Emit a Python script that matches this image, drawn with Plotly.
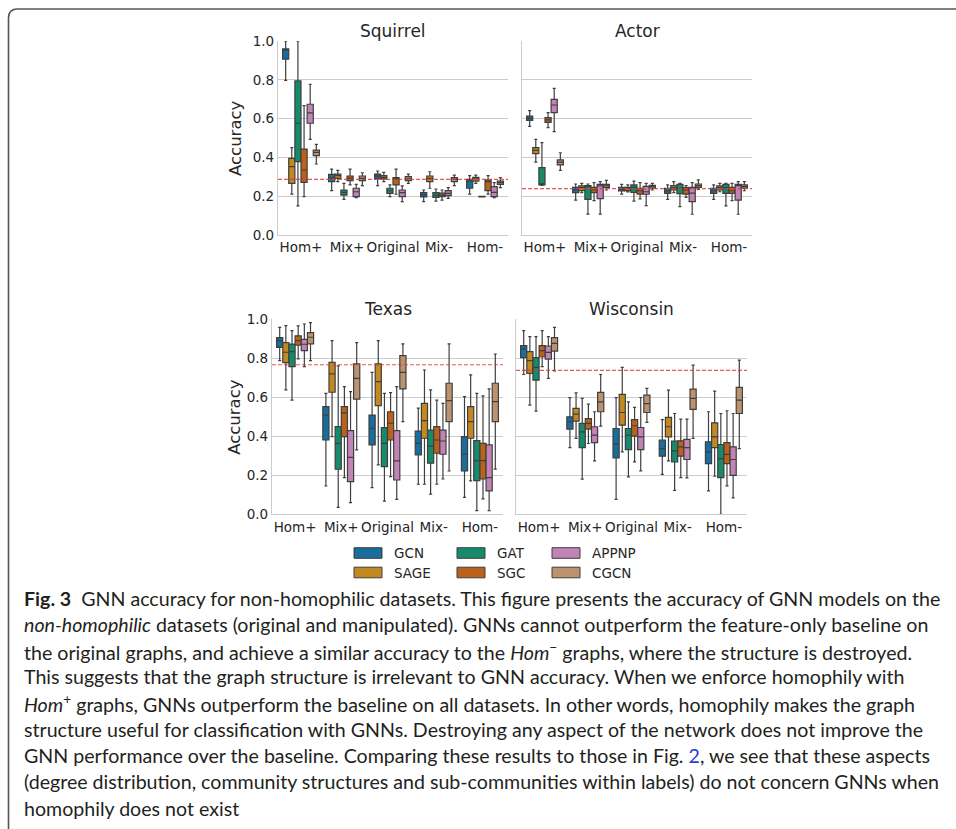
import plotly.graph_objects as go

W, H = 956, 829

MODELS = ["GCN", "SAGE", "GAT", "SGC", "APPNP", "CGCN"]
COLORS = ["#176d9c", "#c38820", "#168a6a", "#ba611b", "#c283b6", "#bd936f"]
CATS = ["Hom+", "Mix+", "Original", "Mix-", "Hom-"]
DATASETS = ["Squirrel", "Actor", "Texas", "Wisconsin"]
BASELINES = [0.287, 0.239, 0.767, 0.738]
Y_TICKS = [0.0, 0.2, 0.4, 0.6, 0.8, 1.0]

# rows: GCN, SAGE, GAT, SGC, APPNP, CGCN ; cols: Hom+, Mix+, Original, Mix-, Hom-
SQUIRREL_Q3 = [[0.959, 0.313, 0.314, 0.218, 0.287], [0.395, 0.314, 0.306, 0.304, 0.297],
               [0.794, 0.232, 0.241, 0.218, 0.199], [0.443, 0.304, 0.296, 0.216, 0.284],
               [0.674, 0.241, 0.232, 0.229, 0.249], [0.438, 0.304, 0.301, 0.296, 0.278]]
SQUIRREL_MED = [[0.955, 0.296, 0.303, 0.206, 0.278], [0.352, 0.306, 0.297, 0.292, 0.290],
                [0.576, 0.220, 0.228, 0.206, 0.198], [0.335, 0.292, 0.289, 0.206, 0.275],
                [0.629, 0.223, 0.218, 0.215, 0.220], [0.426, 0.292, 0.290, 0.287, 0.270]]
SQUIRREL_Q1 = [[0.907, 0.275, 0.289, 0.196, 0.241], [0.266, 0.292, 0.289, 0.275, 0.278],
               [0.378, 0.206, 0.215, 0.194, 0.197], [0.271, 0.280, 0.258, 0.198, 0.229],
               [0.576, 0.198, 0.198, 0.203, 0.198], [0.409, 0.280, 0.280, 0.275, 0.261]]
SQUIRREL_HI = [[1.000, 0.340, 0.330, 0.232, 0.306], [0.450, 0.333, 0.323, 0.326, 0.309],
               [1.000, 0.266, 0.258, 0.237, 0.199], [0.667, 0.340, 0.340, 0.232, 0.306],
               [0.777, 0.261, 0.253, 0.244, 0.270], [0.467, 0.321, 0.314, 0.309, 0.296]]
SQUIRREL_LO = [[0.797, 0.229, 0.254, 0.172, 0.211], [0.211, 0.275, 0.275, 0.241, 0.266],
               [0.150, 0.184, 0.198, 0.175, 0.197], [0.198, 0.258, 0.210, 0.180, 0.211],
               [0.493, 0.192, 0.172, 0.189, 0.192], [0.366, 0.254, 0.266, 0.254, 0.244]]

ACTOR_Q3 = [[0.613, 0.246, 0.246, 0.241, 0.241], [0.450, 0.253, 0.246, 0.254, 0.253],
            [0.347, 0.254, 0.258, 0.261, 0.261], [0.605, 0.246, 0.241, 0.244, 0.246],
            [0.699, 0.261, 0.251, 0.246, 0.261], [0.387, 0.261, 0.256, 0.263, 0.258]]
ACTOR_MED = [[0.601, 0.234, 0.235, 0.227, 0.228], [0.436, 0.244, 0.239, 0.244, 0.244],
             [0.262, 0.249, 0.246, 0.241, 0.244], [0.593, 0.232, 0.228, 0.232, 0.228],
             [0.670, 0.253, 0.223, 0.216, 0.254], [0.376, 0.253, 0.249, 0.254, 0.249]]
ACTOR_Q1 = [[0.591, 0.218, 0.227, 0.215, 0.215], [0.419, 0.229, 0.229, 0.232, 0.232],
            [0.258, 0.184, 0.220, 0.213, 0.215], [0.581, 0.218, 0.211, 0.211, 0.215],
            [0.631, 0.187, 0.210, 0.172, 0.180], [0.361, 0.244, 0.241, 0.246, 0.241]]
ACTOR_HI = [[0.641, 0.263, 0.261, 0.258, 0.258], [0.493, 0.266, 0.258, 0.275, 0.266],
            [0.476, 0.263, 0.278, 0.266, 0.266], [0.631, 0.270, 0.270, 0.254, 0.266],
            [0.756, 0.275, 0.266, 0.270, 0.275], [0.424, 0.282, 0.266, 0.284, 0.275]]
ACTOR_LO = [[0.560, 0.180, 0.211, 0.184, 0.184], [0.376, 0.218, 0.222, 0.218, 0.223],
            [0.256, 0.108, 0.175, 0.146, 0.150], [0.553, 0.177, 0.186, 0.194, 0.177],
            [0.533, 0.108, 0.151, 0.107, 0.107], [0.333, 0.232, 0.232, 0.235, 0.228]]

TEXAS_Q3 = [[0.906, 0.552, 0.509, 0.427, 0.398], [0.880, 0.779, 0.771, 0.569, 0.552],
            [0.873, 0.450, 0.444, 0.432, 0.378], [0.915, 0.552, 0.526, 0.450, 0.364],
            [0.897, 0.429, 0.429, 0.432, 0.356], [0.932, 0.771, 0.814, 0.672, 0.672]]
TEXAS_MED = [[0.889, 0.509, 0.441, 0.364, 0.308], [0.831, 0.720, 0.680, 0.480, 0.475],
             [0.834, 0.364, 0.364, 0.350, 0.275], [0.891, 0.520, 0.467, 0.381, 0.275],
             [0.872, 0.292, 0.274, 0.376, 0.188], [0.908, 0.697, 0.728, 0.583, 0.578]]
TEXAS_Q1 = [[0.856, 0.381, 0.356, 0.304, 0.222], [0.778, 0.626, 0.557, 0.390, 0.390],
            [0.757, 0.231, 0.244, 0.262, 0.173], [0.868, 0.398, 0.381, 0.313, 0.181],
            [0.839, 0.168, 0.176, 0.308, 0.120], [0.874, 0.591, 0.643, 0.475, 0.475]]
TEXAS_HI = [[0.959, 0.620, 0.728, 0.544, 0.603], [0.968, 0.891, 0.891, 0.740, 0.715],
            [0.942, 0.761, 0.620, 0.638, 0.620], [0.966, 0.655, 0.624, 0.586, 0.607],
            [0.976, 0.629, 0.655, 0.569, 0.643], [0.983, 0.880, 0.874, 0.874, 0.822]]
TEXAS_LO = [[0.788, 0.145, 0.137, 0.154, 0.087], [0.638, 0.398, 0.253, 0.154, 0.171],
            [0.586, 0.036, 0.068, 0.103, 0.019], [0.797, 0.188, 0.193, 0.154, 0.079],
            [0.757, 0.060, 0.077, 0.181, 0.019], [0.788, 0.330, 0.475, 0.222, 0.232]]

WISCONSIN_Q3 = [[0.865, 0.500, 0.440, 0.380, 0.372], [0.834, 0.543, 0.615, 0.497, 0.469],
                [0.803, 0.466, 0.440, 0.375, 0.358], [0.865, 0.491, 0.486, 0.377, 0.368],
                [0.863, 0.449, 0.445, 0.384, 0.346], [0.906, 0.625, 0.611, 0.642, 0.651]]
WISCONSIN_MED = [[0.848, 0.474, 0.360, 0.337, 0.320], [0.788, 0.514, 0.522, 0.449, 0.397],
                 [0.753, 0.423, 0.406, 0.325, 0.286], [0.839, 0.466, 0.454, 0.346, 0.307],
                 [0.830, 0.406, 0.397, 0.342, 0.281], [0.877, 0.577, 0.568, 0.594, 0.586]]
WISCONSIN_Q1 = [[0.803, 0.437, 0.289, 0.298, 0.260], [0.723, 0.478, 0.457, 0.397, 0.342],
                [0.688, 0.342, 0.332, 0.269, 0.188], [0.808, 0.437, 0.401, 0.298, 0.260],
                [0.796, 0.368, 0.332, 0.281, 0.200], [0.837, 0.526, 0.522, 0.538, 0.517]]
WISCONSIN_HI = [[0.942, 0.598, 0.598, 0.486, 0.526], [0.911, 0.623, 0.753, 0.637, 0.632],
                [0.911, 0.594, 0.577, 0.517, 0.517], [0.942, 0.565, 0.548, 0.488, 0.531],
                [0.911, 0.526, 0.599, 0.488, 0.517], [0.959, 0.717, 0.646, 0.765, 0.791]]
WISCONSIN_LO = [[0.717, 0.342, 0.077, 0.205, 0.120], [0.560, 0.389, 0.320, 0.274, 0.195],
                [0.529, 0.180, 0.192, 0.123, 0.000], [0.757, 0.363, 0.269, 0.188, 0.146],
                [0.697, 0.274, 0.223, 0.187, 0.084], [0.735, 0.452, 0.471, 0.389, 0.337]]

STATS = [
    (SQUIRREL_Q1, SQUIRREL_MED, SQUIRREL_Q3, SQUIRREL_LO, SQUIRREL_HI),
    (ACTOR_Q1, ACTOR_MED, ACTOR_Q3, ACTOR_LO, ACTOR_HI),
    (TEXAS_Q1, TEXAS_MED, TEXAS_Q3, TEXAS_LO, TEXAS_HI),
    (WISCONSIN_Q1, WISCONSIN_MED, WISCONSIN_Q3, WISCONSIN_LO, WISCONSIN_HI),
]

CAPTION = [
    "<b>Fig. 3</b>  GNN accuracy for non-homophilic datasets. This figure presents the accuracy of GNN models on the",
    "<i>non-homophilic</i> datasets (original and manipulated). GNNs cannot outperform the feature-only baseline on",
    "the original graphs, and achieve a similar accuracy to the <i>Hom</i><sup>−</sup> graphs, where the structure is destroyed.",
    "This suggests that the graph structure is irrelevant to GNN accuracy. When we enforce homophily with",
    "<i>Hom</i><sup>+</sup> graphs, GNNs outperform the baseline on all datasets. In other words, homophily makes the graph",
    "structure useful for classification with GNNs. Destroying any aspect of the network does not improve the",
    "GNN performance over the baseline. Comparing these results to those in Fig. <span style='color:#2a3fd0'>2</span>, we see that these aspects",
    "(degree distribution, community structures and sub-communities within labels) do not concern GNNs when",
    "homophily does not exist",
]

# ---------- layout geometry (pixels) ----------
def px(x):
    return x / W

def py(y):
    return 1 - y / H

PANELS = [  # left, right, top, bottom in px
    (278, 508, 41, 235),
    (522, 752, 41, 235),
    (272, 503, 319.3, 514.3),
    (516, 747, 319.3, 514.3),
]

TXT = "#262626"
FONT = "DejaVu Sans"
EDGE = "#3f3f3f"
GRID = "#cccccc"

fig = go.Figure()
layout = dict(
    width=W, height=H, margin=dict(l=0, r=0, t=0, b=0, pad=0, autoexpand=False),
    paper_bgcolor="white", plot_bgcolor="white",
    boxmode="group", boxgap=0.2, boxgroupgap=0.0,
    showlegend=False,
    font=dict(family=FONT, color=TXT),
)

shapes = []
annotations = []

for i, (name, stats, base) in enumerate(zip(DATASETS, STATS, BASELINES)):
    q1, med, q3, lo, hi = stats
    xa = "x" if i == 0 else f"x{i+1}"
    ya = "y" if i == 0 else f"y{i+1}"
    for m, model in enumerate(MODELS):
        fig.add_trace(go.Box(
            x=CATS, q1=q1[m], median=med[m], q3=q3[m],
            lowerfence=lo[m], upperfence=hi[m],
            name=model, offsetgroup=model,
            fillcolor=COLORS[m], line=dict(color=EDGE, width=1.2),
            whiskerwidth=0.5, xaxis=xa, yaxis=ya, showlegend=False,
        ))
    l, r, t, b = PANELS[i]
    key = "" if i == 0 else str(i + 1)
    layout["xaxis" + key] = dict(
        domain=[px(l), px(r)], anchor=ya, type="category",
        categoryorder="array", categoryarray=CATS, range=[-0.5, 4.5],
        showgrid=False, showline=True, linecolor=GRID, linewidth=1.2,
        ticks="", tickfont=dict(family=FONT, size=13.5, color=TXT),
        zeroline=False, automargin=False,
    )
    layout["yaxis" + key] = dict(
        domain=[py(b), py(t)], anchor=xa, range=[0, 1.0],
        tickvals=Y_TICKS, ticktext=[f"{v:.1f}" for v in Y_TICKS],
        showticklabels=(i % 2 == 0),
        showgrid=True, gridcolor=GRID, gridwidth=1.2,
        showline=True, linecolor=GRID, linewidth=1.2,
        ticks="", tickfont=dict(family=FONT, size=13.5, color=TXT),
        zeroline=False, automargin=False,
    )
    shapes.append(dict(
        type="line", xref=f"{xa} domain", yref=ya, x0=0, x1=1, y0=base, y1=base,
        line=dict(color="rgba(222,60,60,0.85)", width=1.2, dash="4px,2px"), layer="above",
    ))
    annotations.append(dict(
        text=name, xref="paper", yref="paper", x=px((l + r) / 2), y=py(t - 10),
        xanchor="center", yanchor="middle", showarrow=False,
        font=dict(family=FONT, size=17, color=TXT),
    ))
    if i % 2 == 0:
        annotations.append(dict(
            text="Accuracy", xref="paper", yref="paper", x=px(235), y=py((t + b) / 2),
            xanchor="center", yanchor="middle", textangle=-90, showarrow=False,
            font=dict(family=FONT, size=16.5, color=TXT),
        ))

# ---------- legend (manual, column-major 3x2) ----------
LEG_COLS = [(354, 392), (457, 495), (552, 590)]
LEG_ROWS = [553, 572.5]
for m, model in enumerate(MODELS):
    c, rr = divmod(m, 2)
    x0, xt = LEG_COLS[c]
    yc = LEG_ROWS[rr]
    shapes.append(dict(
        type="rect", xref="paper", yref="paper",
        x0=px(x0), x1=px(x0 + 28), y0=py(yc + 5.3), y1=py(yc - 5.3),
        fillcolor=COLORS[m], line=dict(color=EDGE, width=1),
    ))
    annotations.append(dict(
        text=model, xref="paper", yref="paper", x=px(xt), y=py(yc),
        xanchor="left", yanchor="middle", showarrow=False,
        font=dict(family=FONT, size=13.5, color=TXT),
    ))

# ---------- frame ----------
shapes.append(dict(
    type="path", xref="paper", yref="paper",
    path=f"M {px(8.5)},{py(829)} L {px(8.5)},{py(18)} Q {px(8.5)},{py(9)} {px(17.5)},{py(9)} L {px(956)},{py(9)}",
    line=dict(color="#555555", width=1.6),
))

# ---------- caption ----------
CAP_Y0, CAP_DY = 598, 26.25
for k, line in enumerate(CAPTION):
    annotations.append(dict(
        text=line, xref="paper", yref="paper", x=px(22), y=py(CAP_Y0 + k * CAP_DY),
        xanchor="left", yanchor="middle", showarrow=False, align="left",
        font=dict(family="Lato", size=19.6, color="#231f20"),
    ))

layout["shapes"] = shapes
layout["annotations"] = annotations
fig.update_layout(**layout)
fig.write_html("out.html")
